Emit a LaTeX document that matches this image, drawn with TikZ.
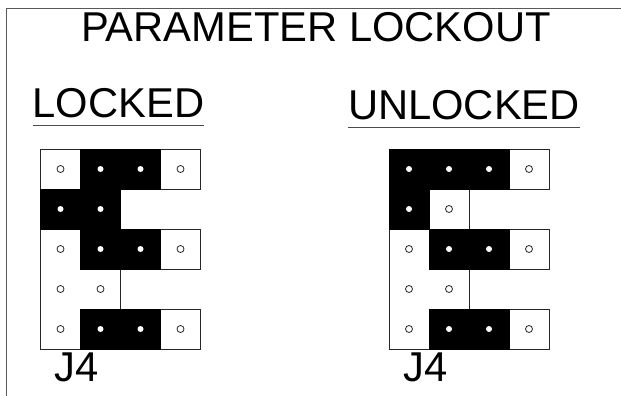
\documentclass[tikz,border=0pt]{standalone}
\usepackage{fontspec}
\setmainfont{Liberation Sans}
\tikzset{
  x=1pt,y=-1pt,
  label text/.style={inner sep=0pt,font=\fontsize{41.7}{41.7}\selectfont,text=black,anchor=base},
  rule line/.style={draw=black!70,line width=1pt},
  cellbox/.style={draw=black!85,line width=0.9pt,fill=white},
  blackcell/.style={draw=black,line width=0.9pt,fill=black},
  openpin/.style={circle,draw=black!85,fill=white,line width=0.8pt,minimum size=7pt,inner sep=0pt},
  closedpin/.style={circle,fill=white,minimum size=6pt,inner sep=0pt},
}
\begin{document}
\begin{tikzpicture}
\useasboundingbox (0,0) rectangle (621,396);
\fill[white] (0,0) rectangle (621,396);
% frame
\draw[rule line,black!65] (6,396) -- (6,9) -- (621,9);
% headings
\node[label text] (title) at (316,41.5) {PARAMETER LOCKOUT};
\node[label text] (locked) at (118.5,117.5) {LOCKED};
\node[label text] (unlocked) at (464,119.5) {UNLOCKED};
\draw[rule line] (33,125) -- (204,125);
\draw[rule line] (348,127) -- (580,127);
% ---- left grid
\begin{scope}[shift={(40.5,149)}]
  \draw[cellbox] (0,0) rectangle (40,40);
  \draw[cellbox] (120,0) rectangle (160,40);
  \draw[cellbox] (120,80) rectangle (160,120);
  \draw[cellbox] (120,160) rectangle (160,200);
  \draw[cellbox] (0,80) -- (0,200) -- (40,200);
  \draw[cellbox] (0,80) -- (40,80);
  \draw[cellbox] (80,120) -- (80,160);
  \draw[blackcell] (40,0) rectangle (120,40);
  \draw[blackcell] (0,40) rectangle (80,80);
  \draw[blackcell] (40,80) rectangle (120,120);
  \draw[blackcell] (40,160) rectangle (120,200);
  \foreach \cx/\cy in {0/0,3/0,0/2,3/2,0/3,1/3,0/4,3/4}
    \node[openpin] (lo\cx\cy) at ({20+40*\cx},{20+40*\cy}) {};
  \foreach \cx/\cy in {1/0,2/0,0/1,1/1,1/2,2/2,1/4,2/4}
    \node[closedpin] (lc\cx\cy) at ({20+40*\cx},{20+40*\cy}) {};
\end{scope}
\node[label text] (jleft) at (77,381) {J4};
% ---- right grid
\begin{scope}[shift={(389,149)}]
  \draw[cellbox] (120,0) rectangle (160,40);
  \draw[cellbox] (40,40) rectangle (80,80);
  \draw[cellbox] (120,80) rectangle (160,120);
  \draw[cellbox] (120,160) rectangle (160,200);
  \draw[cellbox] (0,80) -- (0,200) -- (40,200);
  \draw[cellbox] (80,120) -- (80,160);
  \draw[blackcell] (0,0) rectangle (120,40);
  \draw[blackcell] (0,40) rectangle (40,80);
  \draw[blackcell] (40,80) rectangle (120,120);
  \draw[blackcell] (40,160) rectangle (120,200);
  \foreach \cx/\cy in {3/0,1/1,0/2,3/2,0/3,1/3,0/4,3/4}
    \node[openpin] (ro\cx\cy) at ({20+40*\cx},{20+40*\cy}) {};
  \foreach \cx/\cy in {0/0,1/0,2/0,0/1,1/2,2/2,1/4,2/4}
    \node[closedpin] (rc\cx\cy) at ({20+40*\cx},{20+40*\cy}) {};
\end{scope}
\node[label text] (jright) at (425.5,381) {J4};
\end{tikzpicture}
\end{document}
